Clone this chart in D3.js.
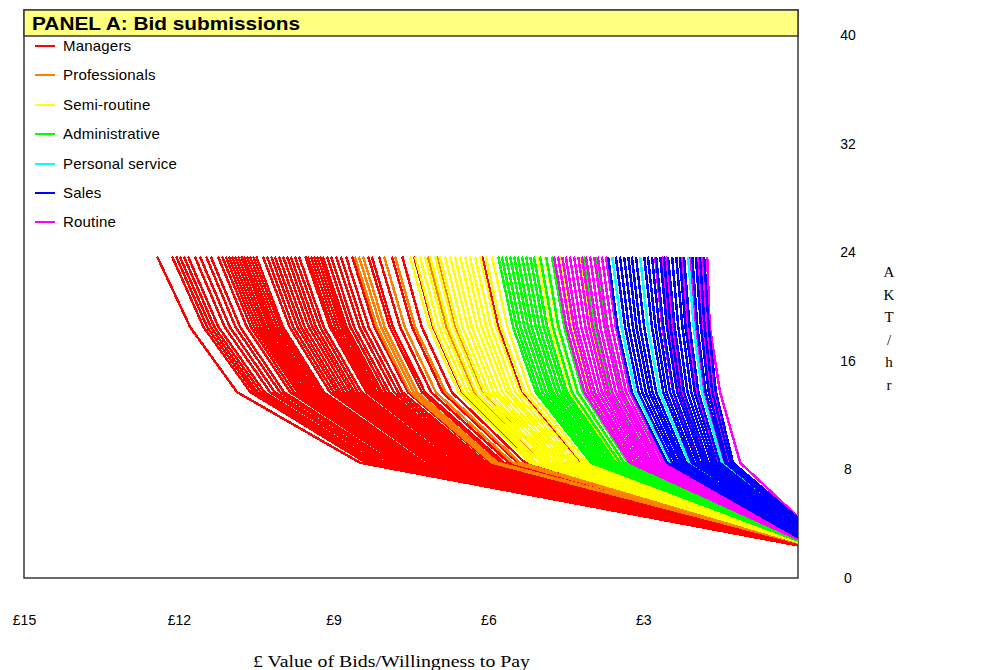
<!DOCTYPE html>
<html>
<head>
<meta charset="utf-8">
<script src="https://cdn.jsdelivr.net/npm/d3@7"></script>
<style>
  html, body { margin: 0; padding: 0; background: #fff; }
  svg { display: block; }
</style>
</head>
<body>
<svg id="chart" width="994" height="670"></svg>
<script>
// ---------------- DATA ----------------
const occupations = ["Managers", "Professionals", "Semi-routine", "Administrative", "Personal service", "Sales", "Routine"];
const occupationColors = ["#ff0000", "#ff8000", "#ffff00", "#00ff00", "#00ffff", "#0000ff", "#ff00ff"];
const xTickValues = [15, 12, 9, 6, 3];
const yTickValues = [0, 8, 16, 24, 32, 40];
// AKT/hr level of each bid vertex; last vertex of every curve is at £0
const bidLevelsAKT = [23.7, 18.5, 13.7, 8.5];

// each curve: [£ bid at 23.7, 18.5, 13.7, 8.5 AKT/hr, AKT/hr reached at £0]
const managersBids = [
  [12.42,11.78,10.87,8.49,2.40],[12.13,11.52,10.61,8.37,2.45],[12.05,11.45,10.54,8.31,2.45],
  [11.98,11.38,10.48,8.27,2.45],[11.90,11.31,10.41,8.21,2.45],[11.82,11.23,10.34,8.16,2.45],
  [11.69,11.11,10.23,8.07,2.45],[11.59,11.01,10.14,8.00,2.45],[11.47,10.90,10.04,7.91,2.45],
  [11.38,10.81,9.96,7.85,2.45],[11.24,10.68,9.84,7.76,2.50],[11.16,10.60,9.77,7.70,2.50],
  [11.09,10.54,9.70,7.65,2.50],[11.03,10.48,9.65,7.61,2.50],[10.97,10.42,9.60,7.57,2.50],
  [10.91,10.36,9.55,7.53,2.50],[10.85,10.31,9.49,7.49,2.50],[10.79,10.25,9.44,7.45,2.50],
  [10.74,10.20,9.40,7.41,2.50],[10.68,10.15,9.35,7.37,2.50],[10.62,10.09,9.29,7.33,2.50],
  [10.56,10.03,9.24,7.29,2.50],[10.50,9.98,9.19,7.25,2.50],[10.37,9.85,9.07,7.16,2.55],
  [10.29,9.78,9.00,7.10,2.55],[10.21,9.70,8.93,7.04,2.55],[10.14,9.63,8.87,7.00,2.55],
  [10.06,9.56,8.80,6.94,2.55],[9.98,9.48,8.73,6.89,2.55],[9.90,9.41,8.66,6.83,2.55],
  [9.83,9.34,8.60,6.78,2.55],[9.75,9.26,8.53,6.73,2.55],[9.67,9.19,8.46,6.67,2.55],
  [9.55,9.07,8.36,6.59,2.55],[9.50,9.03,8.31,6.56,2.55],[9.44,8.97,8.26,6.51,2.55],
  [9.38,8.91,8.21,6.47,2.55],[9.32,8.85,8.16,6.43,2.55],[9.26,8.80,8.10,6.39,2.55],
  [9.21,8.75,8.06,6.35,2.55],[9.13,8.67,7.99,6.30,2.55],[9.05,8.60,7.92,6.24,2.55],
  [8.95,8.50,7.83,6.18,2.55],[8.86,8.42,7.75,6.11,2.55],[8.76,8.32,7.67,6.04,2.55],
  [8.64,8.21,7.56,5.96,2.55],[8.33,7.91,7.29,5.75,2.55],[8.26,7.85,7.23,5.70,2.55],
  [8.12,7.71,7.11,5.60,2.55],[7.87,7.48,6.89,5.43,2.55],[7.67,7.29,6.71,5.29,2.55],
  [7.44,7.07,6.51,5.13,2.55],[6.94,6.59,6.07,4.79,2.55],[6.12,5.81,5.36,4.22,2.55]
];
const professionalsBids = [
  [8.59,8.16,7.52,5.93,2.60],[8.51,8.08,7.45,5.87,2.60],[8.43,8.01,7.38,5.82,2.60],
  [8.02,7.62,7.02,5.53,2.60],[7.81,7.42,6.83,5.39,2.60],[7.52,7.14,6.58,5.19,2.60],
  [7.33,6.96,6.41,5.06,2.60],[7.17,6.81,6.27,4.95,2.60],[7.00,6.65,6.13,4.83,2.60],
  [6.74,6.40,5.90,4.65,2.60],[6.45,6.13,5.64,4.45,2.60],[6.26,5.95,5.48,4.32,2.60]
];
const semiRoutineBids = [
  [7.52,7.14,6.58,5.19,2.65],
  [7.42,7.05,6.49,5.12,2.65],[7.33,6.96,6.41,5.06,2.65],[7.23,6.87,6.33,4.99,2.65],
  [7.13,6.77,6.24,4.92,2.65],[7.03,6.68,6.15,4.85,2.65],[6.94,6.59,6.07,4.79,2.65],
  [6.84,6.50,5.99,4.72,2.65],[6.74,6.40,5.90,4.65,2.65],[6.65,6.32,5.82,4.59,2.65],
  [6.55,6.22,5.73,4.52,2.65],[6.45,6.13,5.64,4.45,2.65],[6.36,6.04,5.57,4.39,2.70],
  [6.26,5.95,5.48,4.32,2.70],[6.16,5.85,5.39,4.25,2.70],[6.05,5.75,5.29,4.17,2.70],
  [5.93,5.63,5.19,4.09,2.70],[5.81,5.52,5.08,4.01,2.70],[5.66,5.38,4.95,3.91,2.70],
  [5.50,5.23,4.81,3.80,2.70],[5.35,5.08,4.68,3.69,2.70],[5.19,4.93,4.54,3.58,2.70],
  [5.04,4.79,4.41,3.48,2.70],[4.90,4.66,4.29,3.38,2.70],[4.77,4.53,4.17,3.29,2.70],
  [4.61,4.38,4.03,3.18,2.70],[4.42,4.20,3.87,3.05,2.70],[4.22,4.01,3.69,2.91,2.70],
  [4.03,3.83,3.53,2.78,2.70]
];
const administrativeBids = [
  [5.81,5.52,5.08,4.01,2.75],[5.74,5.45,5.02,3.96,2.75],[5.66,5.38,4.95,3.91,2.75],
  [5.58,5.30,4.88,3.85,2.75],[5.50,5.23,4.81,3.80,2.75],[5.43,5.16,4.75,3.75,2.75],
  [5.35,5.08,4.68,3.69,2.75],[5.27,5.01,4.61,3.64,2.75],[5.19,4.93,4.54,3.58,2.80],
  [5.12,4.86,4.48,3.53,2.80],[5.00,4.75,4.38,3.45,2.80],[4.88,4.64,4.27,3.37,2.80],
  [4.77,4.53,4.17,3.29,2.80],[4.65,4.42,4.07,3.21,2.80],[4.50,4.28,3.94,3.11,2.80],
  [4.34,4.12,3.80,2.99,2.80],[4.15,3.94,3.63,2.86,2.80],[3.91,3.71,3.42,2.70,2.80],
  [2.64,2.51,2.31,1.82,3.80],[1.90,1.81,1.66,1.31,4.30]
];
const personalServiceBids = [
  [3.60,3.42,3.15,2.48,3.60],[3.06,2.91,2.68,2.11,3.80],[2.13,2.02,1.86,1.47,4.00]
];
const salesBids = [
  [3.68,3.50,3.22,2.54,3.00],[3.53,3.35,3.09,2.44,3.10],[3.45,3.28,3.02,2.38,3.15],
  [3.37,3.20,2.95,2.33,3.20],[3.29,3.13,2.88,2.27,3.25],[3.22,3.06,2.82,2.22,3.30],
  [3.14,2.98,2.75,2.17,3.35],[2.98,2.83,2.61,2.06,3.45],[2.91,2.76,2.55,2.01,3.50],
  [2.83,2.69,2.48,1.95,3.55],[2.75,2.61,2.41,1.90,3.60],[2.67,2.54,2.34,1.84,3.65],
  [2.60,2.47,2.28,1.79,3.70],[2.52,2.39,2.21,1.74,3.75],[2.44,2.32,2.14,1.68,3.80],
  [2.36,2.24,2.07,1.63,3.85],[2.29,2.18,2.00,1.58,3.90],[2.21,2.10,1.93,1.52,3.95],
  [2.05,1.95,1.79,1.41,4.10],[1.98,1.88,1.73,1.37,4.20],[1.90,1.81,1.66,1.31,4.30],
  [1.82,1.73,1.59,1.26,4.40]
];
const routineBids = [
  [4.73,4.49,4.14,3.26,2.85],[4.65,4.42,4.07,3.21,2.85],[4.57,4.34,4.00,3.15,2.85],
  [4.50,4.28,3.94,3.11,2.85],[4.42,4.20,3.87,3.05,2.90],[4.34,4.12,3.80,2.99,2.90],
  [4.26,4.05,3.73,2.94,2.90],[4.19,3.98,3.67,2.89,2.90],[4.11,3.90,3.60,2.84,2.90],
  [4.03,3.83,3.53,2.78,2.90],[3.95,3.75,3.46,2.73,2.95],[3.88,3.69,3.40,2.68,2.95],
  [3.80,3.61,3.33,2.62,2.95],[3.72,3.53,3.26,2.57,2.95],[2.77,2.63,2.42,1.91,3.60],
  [2.64,2.51,2.31,1.82,3.80],[2.56,2.43,2.24,1.77,3.90],[2.44,2.32,2.14,1.68,4.00],
  [2.25,2.14,1.97,1.55,4.10],[2.09,1.99,1.83,1.44,4.20],[1.94,1.84,1.70,1.34,4.30],
  [1.86,1.77,1.63,1.28,4.40],[1.76,1.71,1.51,1.12,4.50]
];
// drawing order (index into occupations)
const seriesBids = [managersBids, professionalsBids, semiRoutineBids, administrativeBids, personalServiceBids, salesBids, routineBids];
const drawOrder = [0, 1, 2, 3, 6, 4, 5];

// ---------------- CHART ----------------
const svg = d3.select("#chart");
const plot = { left: 24, right: 798, top: 10, bottom: 578 };
const sans = "Liberation Sans, Arial, sans-serif";
const serif = "Liberation Serif, Times New Roman, serif";

const x = d3.scaleLinear().domain([15, 0]).range([plot.left, plot.right]);
const y = d3.scaleLinear().domain([0, 40]).range([578, 35.5]);

svg.append("defs").append("clipPath").attr("id", "clip")
  .append("rect").attr("x", plot.left).attr("y", plot.top)
  .attr("width", plot.right - plot.left).attr("height", plot.bottom - plot.top);

// frame
svg.append("rect").attr("x", plot.left).attr("y", plot.top)
  .attr("width", plot.right - plot.left).attr("height", plot.bottom - plot.top)
  .attr("fill", "#fff").attr("stroke", "#3a3a3a").attr("stroke-width", 1.5);

const line = d3.line().x(d => x(d[0])).y(d => y(d[1]));
const curves = svg.append("g").attr("clip-path", "url(#clip)");
drawOrder.forEach(ci => {
  seriesBids[ci].forEach(b => {
    const pts = bidLevelsAKT.map((lv, i) => [b[i], lv]);
    pts.push([0, b[4]]);
    curves.append("path").attr("d", line(pts))
      .attr("fill", "none").attr("stroke", occupationColors[ci])
      .attr("stroke-width", 2.5).attr("stroke-linejoin", "round")
      .attr("shape-rendering", "crispEdges");
  });
});

// title bar
svg.append("rect").attr("x", plot.left).attr("y", plot.top)
  .attr("width", plot.right - plot.left).attr("height", 26)
  .attr("fill", "#ffff80").attr("stroke", "#3a3a3a").attr("stroke-width", 1.5);
svg.append("text").attr("x", 32).attr("y", 30)
  .attr("font-family", sans).attr("font-weight", "bold")
  .attr("font-size", 18).attr("textLength", 268).attr("lengthAdjust", "spacingAndGlyphs")
  .attr("fill", "#000").text("PANEL A: Bid submissions");

// legend
const legend = svg.append("g");
occupations.forEach((name, i) => {
  const cy = Math.round(46 + i * 29.4);
  legend.append("rect").attr("x", 35).attr("y", cy - 1).attr("width", 20).attr("height", 2)
    .attr("fill", occupationColors[i]);
  legend.append("text").attr("x", 63).attr("y", cy + 5)
    .attr("font-family", sans).attr("font-size", 15).attr("letter-spacing", 0.2)
    .attr("fill", "#000").text(name);
});

// x axis
const xAxis = svg.append("g").attr("transform", "translate(0,615)")
  .call(d3.axisBottom(x).tickValues(xTickValues).tickFormat(d => "£" + d).tickSize(0).tickPadding(0));
xAxis.select(".domain").remove();
xAxis.selectAll("text").attr("font-family", sans).attr("font-size", 14).attr("fill", "#000");

// y axis
const yAxis = svg.append("g").attr("transform", "translate(848,0)")
  .call(d3.axisRight(y).tickValues(yTickValues).tickSize(0).tickPadding(0));
yAxis.select(".domain").remove();
yAxis.selectAll("text").attr("text-anchor", "middle").attr("x", 0)
  .attr("font-family", sans).attr("font-size", 14).attr("fill", "#000");

// axis titles
svg.append("text").attr("x", 253).attr("y", 667)
  .attr("font-family", serif).attr("font-size", 16)
  .attr("textLength", 277).attr("lengthAdjust", "spacingAndGlyphs")
  .attr("fill", "#000").text("£ Value of Bids/Willingness to Pay");

const yTitle = svg.append("text").attr("text-anchor", "middle")
  .attr("font-family", serif).attr("font-size", 15).attr("fill", "#000");
"AKT/hr".split("").forEach((ch, i) => {
  yTitle.append("tspan").attr("x", 889).attr("y", 277 + i * 22.5).text(ch);
});
</script>
</body>
</html>
